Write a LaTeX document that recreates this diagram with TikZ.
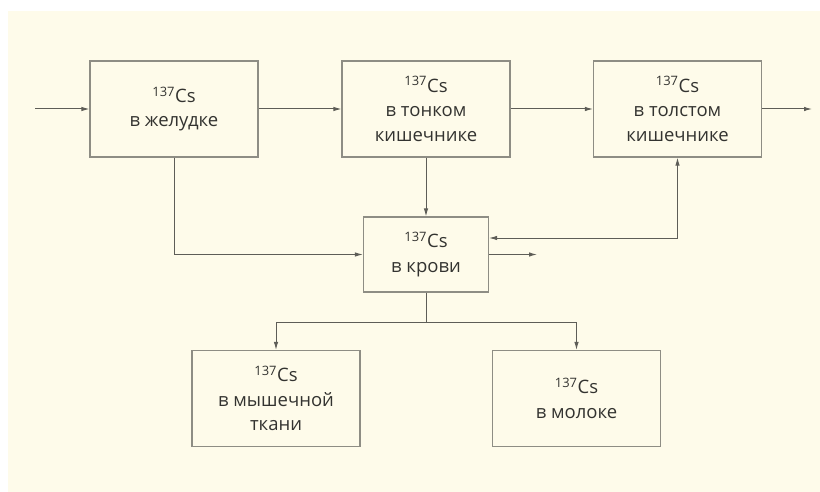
\documentclass[tikz,border=0pt]{standalone}
\usepackage{fontspec}
\setmainfont{Open Sans}
\usetikzlibrary{arrows.meta,positioning}
\definecolor{paper}{HTML}{FEFBEA}
\definecolor{rim}{HTML}{8E8D84}
\definecolor{wire}{HTML}{5E5D57}
\definecolor{ink}{HTML}{333330}

\begin{document}
\begin{tikzpicture}[x=1pt,y=-1pt,
      box/.style={rectangle, draw=rim, line width=1.1pt, fill=paper, minimum width=168pt, minimum height=96pt, inner sep=0pt, align=center, text=ink, font=\fontsize{18.5}{24.5}\selectfont},
      pfeil/.style={-{Latex[length=8pt,width=4.5pt]}, draw=wire, line width=1pt},
      doppel/.style={{Latex[length=8pt,width=4.5pt]}-{Latex[length=8pt,width=4.5pt]}, draw=wire, line width=1pt}]

\useasboundingbox (0,0) rectangle (820,492);
\fill[paper] (8,11) rectangle (820,492);

\node[box] (st) at (174,109) {\textsuperscript{137}Cs\\в желудке};
\node[box] (si) at (426,109) {\textsuperscript{137}Cs\\в тонком\\кишечнике};
\node[box] (li) at (677.5,109) {\textsuperscript{137}Cs\\в толстом\\кишечнике};
\node[box, minimum width=125pt, minimum height=75pt] (bl) at (426,254.5) {\textsuperscript{137}Cs\\в крови};
\node[box] (mu) at (276,398.5) {\textsuperscript{137}Cs\\в мышечной\\ткани};
\node[box] (mi) at (576.5,398.5) {\textsuperscript{137}Cs\\в молоке};

\coordinate (in) at (35,109);
\coordinate (out) at (812,109);
\coordinate (ex) at (537,254.5);
\coordinate (fork) at (426,322);

\draw[pfeil] (in) -- (st);
\draw[pfeil] (st) -- (si);
\draw[pfeil] (si) -- (li);
\draw[pfeil] (li) -- (out);
\draw[pfeil] (si) -- (bl);
\draw[pfeil] (st.south) |- (bl.west);
\draw[pfeil] (bl) -- (ex);
\draw[doppel] ([yshift=16.5pt]bl.east) -| (li.south);
\draw[wire, line width=1pt] (bl.south) -- (fork);
\draw[pfeil] (fork) -| (mu.north);
\draw[pfeil] (fork) -| (mi.north);

\end{tikzpicture}
\end{document}
